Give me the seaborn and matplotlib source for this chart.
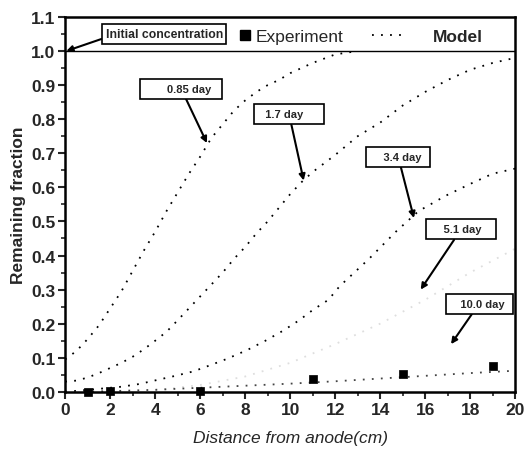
import matplotlib
matplotlib.use("Agg")
import matplotlib.pyplot as plt
from matplotlib.lines import Line2D
from matplotlib.ticker import MultipleLocator
import seaborn as sns
import pandas as pd

# experiment points
exp_x = [1, 2, 6, 11, 15, 19]
exp_y = [0.0, 0.003, 0.003, 0.037, 0.053, 0.075]

# model curves
x_085 = [0, 0.5, 1.0, 1.5, 2.0, 2.5, 3.0, 3.5, 4.0, 4.5, 5.0, 5.5, 6.0, 6.5,
         7.0, 7.5, 8.0, 8.5, 9.0, 9.5, 10.0, 11.0, 12.0, 13.0]
y_085 = [0.095, 0.12, 0.155, 0.195, 0.245, 0.295, 0.355, 0.415, 0.47, 0.53,
         0.585, 0.64, 0.69, 0.745, 0.785, 0.825, 0.855, 0.88, 0.90, 0.915,
         0.935, 0.965, 0.99, 1.0]

x_17 = [0, 0.5, 1.0, 1.5, 2.0, 2.5, 3.0, 3.5, 4.0, 4.5, 5.0, 5.5, 6.0, 6.5,
        7.0, 7.5, 8.0, 8.5, 9.0, 9.5, 10.0, 10.5, 11.0, 11.5, 12.0, 13.0,
        14.0, 15.0, 16.0, 17.0, 18.0, 19.0, 20.0]
y_17 = [0.03, 0.033, 0.042, 0.055, 0.07, 0.085, 0.103, 0.125, 0.15, 0.176,
        0.21, 0.245, 0.28, 0.315, 0.35, 0.39, 0.425, 0.465, 0.50, 0.54, 0.58,
        0.615, 0.645, 0.67, 0.695, 0.75, 0.79, 0.84, 0.88, 0.915, 0.945,
        0.965, 0.98]

x_34 = [0, 0.5, 1.7, 2.5, 3.3, 4.1, 4.9, 5.7, 6.4, 7.2, 8.1, 8.9, 9.7, 10.4,
        11.0, 11.7, 12.2, 13.5, 14.7, 15.7, 16.9, 18.0, 19.0, 20.0]
y_34 = [0.0, 0.003, 0.01, 0.015, 0.023, 0.035, 0.047, 0.06, 0.077, 0.097,
        0.123, 0.15, 0.18, 0.21, 0.24, 0.27, 0.31, 0.39, 0.47, 0.53, 0.575,
        0.61, 0.64, 0.655]

x_51 = [4, 6, 8, 10, 12, 14, 16, 18, 20]
y_51 = [0.005, 0.02, 0.045, 0.085, 0.14, 0.2, 0.27, 0.35, 0.42]

x_100 = [0, 2, 4, 6, 8, 10, 12, 14, 16, 18, 20]
y_100 = [0.0, 0.002, 0.006, 0.012, 0.018, 0.024, 0.031, 0.039, 0.047, 0.055, 0.062]

sns.set_theme(style="ticks")
plt.rcParams["font.family"] = ["Liberation Sans", "DejaVu Sans"]

fig = plt.figure(figsize=(5.3, 4.6), dpi=100)
ax = fig.add_axes([0.123, 0.146, 0.849, 0.815])

dots = (0, (1, 4))
for xs, ys, col in [(x_085, y_085, "black"), (x_17, y_17, "black"),
                    (x_34, y_34, "black"), (x_51, y_51, "#dedede"),
                    (x_100, y_100, "#444444")]:
    sns.lineplot(x=xs, y=ys, ax=ax, color=col, linestyle=dots, lw=1.3)

df = pd.DataFrame({"x": exp_x, "y": exp_y})
sns.scatterplot(data=df, x="x", y="y", ax=ax, marker="s", s=40,
                color="black", edgecolor="black", zorder=5, clip_on=False)

ax.axhline(1.0, color="black", lw=1.0)

ax.set_xlim(0, 20)
ax.set_ylim(0, 1.1)
ax.xaxis.set_major_locator(MultipleLocator(2))
ax.xaxis.set_minor_locator(MultipleLocator(1))
ax.yaxis.set_minor_locator(MultipleLocator(0.05))
ax.set_yticks([i / 10 for i in range(12)])
ax.set_yticklabels([f"{i / 10:.1f}" for i in range(12)])
ax.tick_params(which="major", direction="out", length=5, width=1.5,
               labelsize=12.5, pad=2)
ax.tick_params(which="minor", direction="out", length=3, width=1.2)
for lab in ax.get_xticklabels() + ax.get_yticklabels():
    lab.set_fontweight("bold")
for sp in ax.spines.values():
    sp.set_linewidth(1.8)
    sp.set_color("black")

ax.set_xlabel("Distance from anode(cm)", fontsize=12.5, style="italic", labelpad=10)
ax.set_ylabel("Remaining fraction", fontsize=12.5, fontweight="bold", labelpad=4)

box = dict(boxstyle="square,pad=0.35", fc="white", ec="black", lw=1.2)
arrow = dict(arrowstyle="-|>", color="black", lw=1.5, mutation_scale=9,
             shrinkA=0, shrinkB=0)

ax.annotate("Initial concentration", xy=(0.05, 1.0), xytext=(4.4, 1.05),
            fontsize=8.8, fontweight="bold", ha="center", va="center",
            bbox=dict(box, boxstyle="square,pad=0.3"),
            arrowprops=dict(arrow, relpos=(0, 0.2)))
labels = [("       0.85 day  ", (6.3, 0.73), (5.15, 0.89)),
          ("  1.7 day     ", (10.6, 0.62), (9.95, 0.815)),
          ("    3.4 day ", (15.5, 0.51), (14.8, 0.69)),
          ("    5.1 day   ", (15.8, 0.30), (17.6, 0.477)),
          ("   10.0 day ", (17.15, 0.14), (18.4, 0.259))]
for txt, tip, pos in labels:
    ax.annotate(txt, xy=tip, xytext=pos, fontsize=8, fontweight="bold",
                ha="center", va="center",
                bbox=dict(box, boxstyle="square,pad=0.45"),
                arrowprops=arrow)

# legend, two pieces so the spacing can follow the picture
leg1 = ax.legend([Line2D([], [], marker="s", color="black", ls="none", markersize=7)],
                 ["Experiment"], loc="center left", bbox_to_anchor=(0.384, 0.949),
                 frameon=False, fontsize=12.5, handlelength=0.8,
                 handletextpad=0.2, borderpad=0, borderaxespad=0)
ax.add_artist(leg1)
leg2 = ax.legend([Line2D([], [], color="black", linestyle=dots, lw=1.3)],
                 ["Model"], loc="center left", bbox_to_anchor=(0.682, 0.949),
                 frameon=False, handlelength=1.9, handletextpad=1.6,
                 borderpad=0, borderaxespad=0,
                 prop={"size": 12.5, "weight": "bold"})

fig.savefig("out.png", dpi=100)
